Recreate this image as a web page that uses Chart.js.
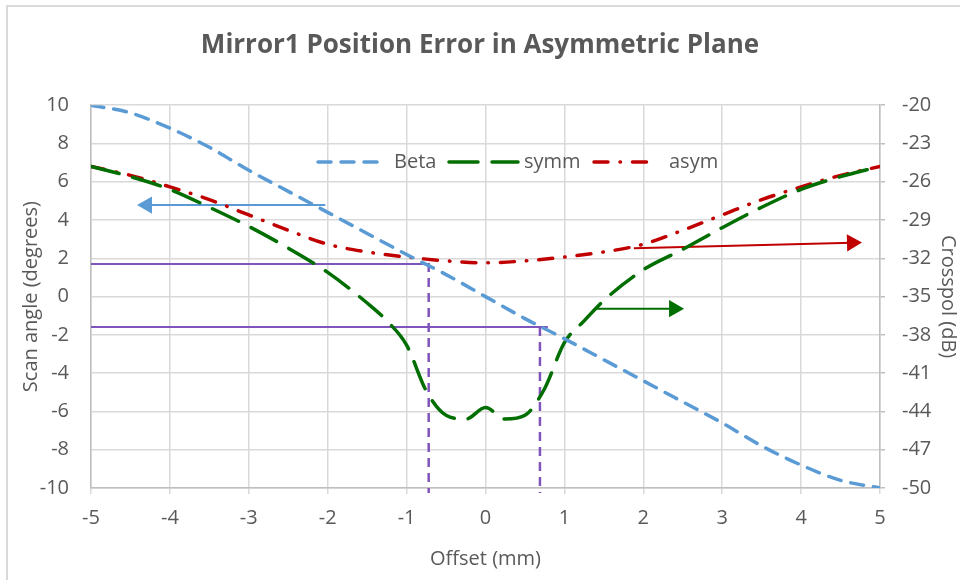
<!DOCTYPE html>
<html>
<head>
<meta charset="utf-8">
<script src="https://cdn.jsdelivr.net/npm/chart.js@4.4.0/dist/chart.umd.min.js"></script>
<style>
  html, body { margin: 0; padding: 0; background: #fff; }
  #wrap { position: relative; width: 960px; height: 580px; overflow: hidden; }
  #frame { position: absolute; left: 6px; top: 5px; width: 1000px; height: 1000px; border: 2px solid #d9d9d9; }
  canvas { position: absolute; left: 0; top: 0; }
</style>
</head>
<body>
<div id="wrap"><div id="frame"></div><canvas id="chart" width="960" height="580"></canvas></div>
<script>
// offsets (mm)
const betaX = [-5, -4.5, -4, -3.5, -3, -2.5, -2, -1.5, -1, -0.5, 0, 0.5, 1, 1.5, 2, 2.5, 3, 3.5, 4, 4.5, 5];
// scan angle (degrees), left axis
const beta = [10, 9.6, 8.8, 7.8, 6.6, 5.5, 4.4, 3.3, 2.2, 1.15, 0, -1.15, -2.2, -3.3, -4.4, -5.5, -6.6, -7.8, -8.8, -9.6, -10];

// crosspol (dB), right axis
const symmX = [-5, -4.5, -4, -3.5, -3, -2.5, -2, -1.5, -1.25, -1, -0.75, -0.5, -0.25, 0, 0.25, 0.5, 0.75, 1, 1.25, 1.5, 2, 2.5, 3, 3.5, 4, 4.5, 5];
const symm = [-24.8, -25.6, -26.6, -28.0, -29.5, -31.2, -33.1, -35.5, -36.9, -38.8, -42.4, -44.3, -44.6, -43.7, -44.6, -44.3, -42.2, -38.6, -36.9, -35.3, -32.9, -31.3, -29.6, -28.0, -26.6, -25.6, -24.8];

const asymX = betaX;
const asym = [-24.8, -25.5, -26.4, -27.4, -28.6, -29.8, -30.9, -31.5, -31.9, -32.2, -32.35, -32.2, -31.9, -31.5, -30.9, -29.8, -28.6, -27.4, -26.4, -25.5, -24.8];

// annotation arrows and guide lines (left axis units)
const arrowBetaX = [-2.03, -4.29], arrowBetaY = [4.78, 4.78];
const arrowAsymX = [1.88, 4.645], arrowAsymY = [2.52, 2.815];
const arrowSymmX = [1.41, 2.39], arrowSymmY = [-0.63, -0.63];
const guide1X = [-5, -0.72], guide1Y = [1.70, 1.70];
const drop1X = [-0.72, -0.72], drop1Y = [1.75, -10.26];
const guide2X = [-5, 0.79], guide2Y = [-1.59, -1.59];
const drop2X = [0.69, 0.69], drop2Y = [-1.59, -10.26];

const FONT = '"Open Sans", "Liberation Sans", sans-serif';
const TXT = '#595959';

const pts = (xs, ys) => xs.map((x, i) => ({ x: x, y: ys[i] }));

function arrow(xs, ys, color, rot) {
  return {
    data: pts(xs, ys), yAxisID: 'y', borderColor: color, backgroundColor: color,
    borderWidth: 2, tension: 0, pointStyle: 'triangle',
    pointRadius: [0, 10], pointRotation: [0, rot], pointBorderWidth: 0, clip: false
  };
}
function guide(xs, ys, dash) {
  return {
    data: pts(xs, ys), yAxisID: 'y', borderColor: '#8055bb', borderWidth: dash ? 2.5 : 2,
    borderDash: dash || [], tension: 0, pointRadius: 0, clip: false
  };
}

const insideLegend = {
  id: 'insideLegend',
  afterDatasetsDraw(chart) {
    const ctx = chart.ctx;
    const items = [
      { i: 0, x0: 318, x1: 386, tx: 394 },
      { i: 1, x0: 449, x1: 518, tx: 524 },
      { i: 2, x0: 594, x1: 652, tx: 669 }
    ];
    const y = 162;
    ctx.save();
    items.forEach(it => {
      const ds = chart.data.datasets[it.i];
      ctx.strokeStyle = ds.borderColor;
      ctx.lineWidth = ds.borderWidth;
      ctx.lineCap = 'round';
      ctx.setLineDash(ds.borderDash);
      ctx.beginPath();
      ctx.moveTo(it.x0, y);
      ctx.lineTo(it.x1, y);
      ctx.stroke();
      ctx.setLineDash([]);
      ctx.fillStyle = TXT;
      ctx.font = '20px ' + FONT;
      ctx.textBaseline = 'middle';
      ctx.fillText(ds.label, it.tx, y);
    });
    ctx.restore();
  }
};

new Chart(document.getElementById('chart'), {
  type: 'line',
  data: {
    datasets: [
      {
        label: 'Beta', data: pts(betaX, beta), yAxisID: 'y',
        borderColor: '#5b9bd5', borderWidth: 3.5, borderDash: [13, 10], borderCapStyle: 'round',
        cubicInterpolationMode: 'monotone', pointRadius: 0
      },
      {
        label: 'symm', data: pts(symmX, symm), yAxisID: 'y2',
        borderColor: '#006e00', borderWidth: 3.5, borderDash: [29, 14], borderCapStyle: 'round',
        cubicInterpolationMode: 'monotone', pointRadius: 0
      },
      {
        label: 'asym', data: pts(asymX, asym), yAxisID: 'y2',
        borderColor: '#c00000', borderWidth: 3.5, borderDash: [14, 12, 0.5, 12], borderCapStyle: 'round',
        cubicInterpolationMode: 'monotone', pointRadius: 0
      },
      arrow(arrowBetaX, arrowBetaY, '#5b9bd5', -90),
      arrow(arrowAsymX, arrowAsymY, '#c00000', 88.5),
      arrow(arrowSymmX, arrowSymmY, '#006e00', 90),
      guide(guide1X, guide1Y),
      guide(drop1X, drop1Y, [9, 6]),
      guide(guide2X, guide2Y),
      guide(drop2X, drop2Y, [9, 6])
    ]
  },
  options: {
    responsive: false,
    animation: false,
    events: [],
    layout: { padding: 0 },
    plugins: {
      legend: { display: false },
      tooltip: { enabled: false },
      title: {
        display: true,
        text: 'Mirror1 Position Error in Asymmetric Plane',
        color: TXT,
        font: { family: FONT, size: 26, weight: 'bold' },
        padding: { top: 30, bottom: 44 }
      }
    },
    scales: {
      x: {
        type: 'linear', min: -5, max: 5,
        ticks: { stepSize: 1, color: TXT, font: { family: FONT, size: 20 }, padding: 12 },
        grid: { color: '#d9d9d9', lineWidth: 1.5, tickLength: 6 },
        border: { color: '#bfbfbf', width: 1.5 },
        title: { display: true, text: 'Offset (mm)', color: TXT, font: { family: FONT, size: 20 }, padding: { top: 0, bottom: 9 } },
        afterFit(s) { s.height = 92; }
      },
      y: {
        position: 'left', min: -10, max: 10,
        ticks: { stepSize: 2, color: TXT, font: { family: FONT, size: 20 }, padding: 22 },
        grid: { color: '#d9d9d9', lineWidth: 1.5, drawTicks: false },
        border: { color: '#bfbfbf', width: 1.5 },
        title: { display: true, text: 'Scan angle (degrees)', color: TXT, font: { family: FONT, size: 20 }, padding: { top: 19, bottom: 0 } },
        afterFit(s) { s.width = 91; }
      },
      y2: {
        position: 'right', min: -50, max: -20,
        ticks: { stepSize: 3, color: TXT, font: { family: FONT, size: 20 }, padding: 17 },
        grid: { drawOnChartArea: false, color: '#bfbfbf', lineWidth: 1.5, tickLength: 5 },
        border: { color: '#bfbfbf', width: 1.5 },
        title: { display: true, text: 'Crosspol (dB)', color: TXT, font: { family: FONT, size: 20 }, padding: { top: 0, bottom: 0 } },
        afterFit(s) { s.width = 80; }
      }
    }
  },
  plugins: [insideLegend]
});
</script>
</body>
</html>
